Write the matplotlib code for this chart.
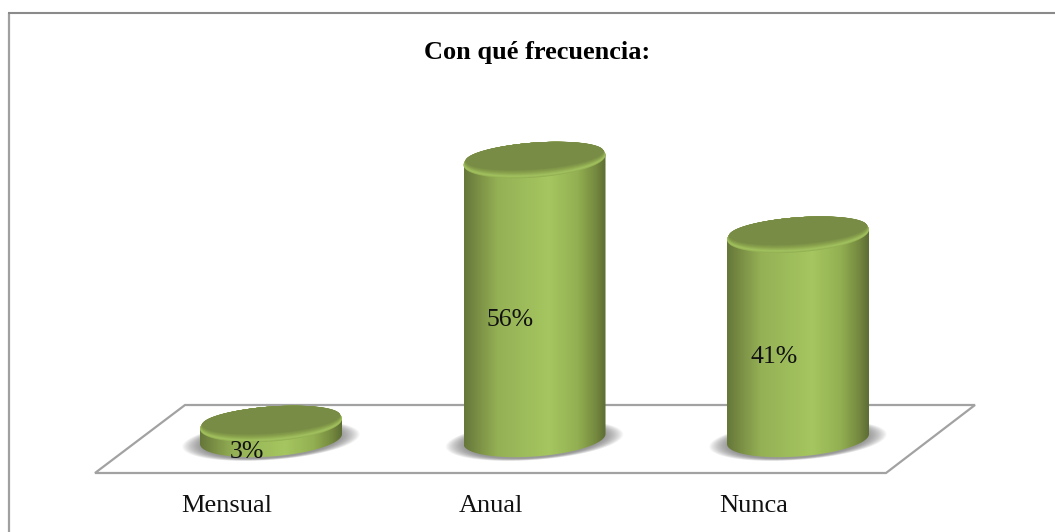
import numpy as np
import matplotlib
matplotlib.use("Agg")
import matplotlib.pyplot as plt
from matplotlib.colors import LinearSegmentedColormap
from matplotlib.patches import Polygon

# Data
categories = ["Mensual", "Anual", "Nunca"]
values = [3, 56, 41]
value_labels = ["3%", "56%", "41%"]
title = "Con qué frecuencia:"

plt.rcParams['font.family'] = ['Liberation Serif', 'DejaVu Serif']

W, H = 1055, 532
fig = plt.figure(figsize=(W / 100, H / 100), dpi=100, facecolor='white')

# background layer in pixels: chart border and the floor
bg = fig.add_axes([0, 0, 1, 1])
bg.set_xlim(0, W)
bg.set_ylim(H, 0)
bg.axis('off')
bg.plot([8.5, 8.5], [H, 13], color='#a0a0a0', lw=1.6, solid_capstyle='butt')
bg.plot([8, W], [13, 13], color='#8a8a8a', lw=1.5, solid_capstyle='butt')
bg.add_patch(Polygon([(95, 473), (185, 405), (975, 405), (886, 473)], closed=True,
                     fill=False, edgecolor='#a2a2a2', lw=1.6))

# chart layer: x in categories, y in percent
# 0% sits at pixel 439, 4.98 px per percent, bars 263.5 px apart
ax = fig.add_axes([0, 0, 1, 1], facecolor='none')
px_x, px_y = 263.5, 4.98
ax.set_xlim((0 - 271) / px_x, (W - 271) / px_x)
ax.set_ylim((439 - H) / px_y, 439 / px_y)
ax.axis('off')

half_w = 71 / px_x
half_h = 17.5 / px_y
skew = 5 / px_y


def ring(x, y, t, sx=1.0, sy=1.0):
    return (x + half_w * sx * np.cos(t),
            y + half_h * sy * np.sin(t) + skew * sx * np.cos(t))


body_cmap = LinearSegmentedColormap.from_list('body', [
    (0.0, '#66773a'), (0.1, '#7b8f45'), (0.24, '#95b155'), (0.6, '#a5c660'),
    (0.8, '#93b052'), (0.93, '#75893f'), (1.0, '#5d6d34')])
rim_cmap = LinearSegmentedColormap.from_list('rim', [
    (0.0, '#93b053'), (0.2, '#a3c25f'), (0.6, '#8aa34d'), (1.0, '#788c45')])

t = np.linspace(0, 2 * np.pi, 160)
for i, v in enumerate(values):
    # soft shadow on the floor, wide but not very tall
    for k in np.linspace(1.25, 0.98, 24):
        sx, sy = ring(i, -0.3, t, k, 1 + (k - 1) * 0.45)
        ax.fill(sx, sy, color='#666666', alpha=0.04, lw=0, zorder=2)

    # cylinder body with a horizontal gradient
    low = ring(i, 0, np.linspace(np.pi, 2 * np.pi, 80))
    high = ring(i, v, np.linspace(0, np.pi, 80))
    body = Polygon(np.column_stack([np.r_[low[0], high[0]], np.r_[low[1], high[1]]]),
                   closed=True, transform=ax.transData, fc='none', ec='none')
    ax.add_patch(body)
    im = ax.imshow(np.linspace(0, 1, 256)[None, :], cmap=body_cmap, aspect='auto',
                   extent=[i - half_w, i + half_w, -half_h - skew, v + half_h + skew],
                   zorder=3)
    im.set_clip_path(body)

    # top face: stacked ellipses give the lighter bevel on the lower edge
    for n, f in enumerate(np.linspace(0, 1, 14)):
        sy = 1 - 0.24 * f
        ex, ey = ring(i, v + half_h * 0.24 * f, t, 1 - 0.03 * f, sy)
        ax.fill(ex, ey, color=rim_cmap(f), lw=0, zorder=4 + n * 0.01)

    ax.text(i - 24 / px_x, v / 2 - 20 / px_y, value_labels[i], ha='center', va='center',
            fontsize=18.5, color='#111111', zorder=6)
    ax.text(i - 44 / px_x, -67 / px_y, categories[i], ha='center', va='center',
            fontsize=19, color='#111111', zorder=6)

ax.set_xlim((0 - 271) / px_x, (W - 271) / px_x)
ax.set_ylim((439 - H) / px_y, 439 / px_y)

fig.text(537 / W, 1 - 53 / H, title, ha='center', va='center', fontsize=19,
         fontweight='bold', color='black')

fig.savefig('out.png', dpi=100)
